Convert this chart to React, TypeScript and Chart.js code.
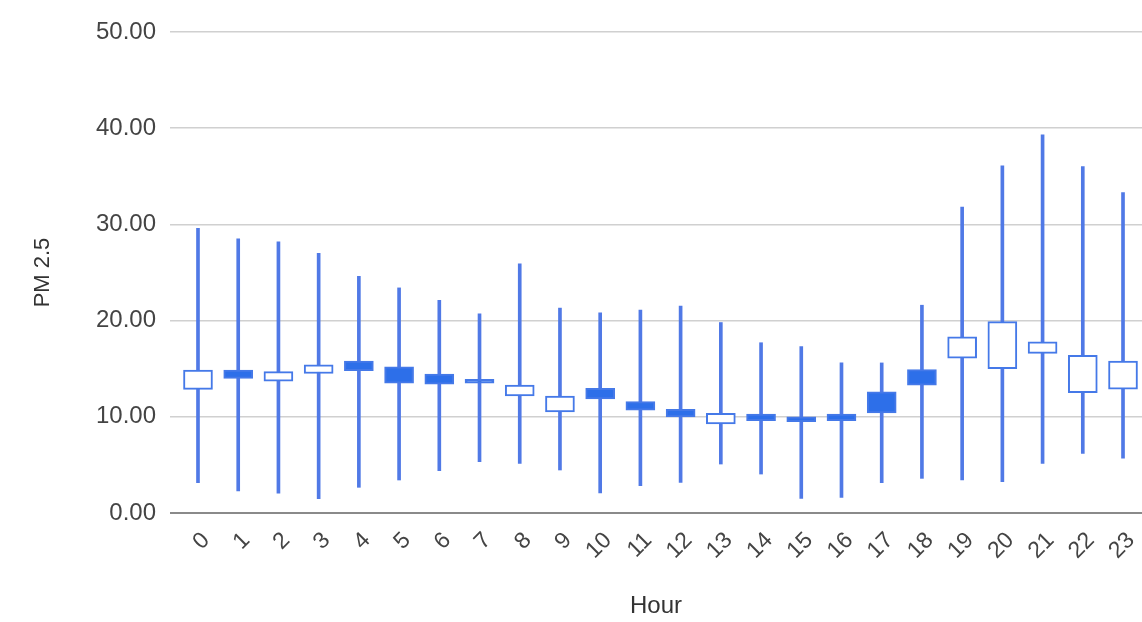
import React, { useEffect, useRef } from "react";
import { Chart, registerables } from "chart.js";

Chart.register(...registerables);

const hours = [0, 1, 2, 3, 4, 5, 6, 7, 8, 9, 10, 11, 12, 13, 14, 15, 16, 17, 18, 19, 20, 21, 22, 23];
const lows = [3.15, 2.3, 2.05, 1.5, 2.67, 3.43, 4.4, 5.33, 5.16, 4.47, 2.1, 2.84, 3.19, 5.09, 4.05, 1.52, 1.63, 3.15, 3.6, 3.43, 3.26, 5.16, 6.2, 5.7];
const opens = [12.85, 14.86, 13.7, 14.5, 15.8, 15.2, 14.45, 13.9, 12.16, 10.5, 12.96, 11.57, 10.78, 9.25, 10.29, 10.0, 10.29, 12.6, 14.9, 16.1, 15.0, 16.6, 12.5, 12.86];
const closes = [14.86, 14.0, 14.7, 15.4, 14.8, 13.5, 13.4, 13.5, 13.3, 12.16, 11.85, 10.7, 10.0, 10.36, 9.6, 9.5, 9.6, 10.4, 13.3, 18.3, 19.9, 17.8, 16.4, 15.8];
const highs = [29.6, 28.5, 28.2, 27.0, 24.6, 23.4, 22.1, 20.7, 25.9, 21.3, 20.8, 21.1, 21.5, 19.8, 17.7, 17.3, 15.6, 15.6, 21.6, 31.8, 36.1, 39.3, 36.0, 33.3];
const yTicks = [0, 10, 20, 30, 40, 50];

const BLUE = "#4579e8";
const WICK = "#5079e6";
const FILL = "#2d6fe9";
const FONT = "'Liberation Sans', Arial, sans-serif";

export default function App() {
  const ref = useRef<HTMLCanvasElement | null>(null);

  useEffect(() => {
    if (!ref.current) return;
    const wickData = hours.map((h, i) => ({ x: h, y: [lows[i], highs[i]] }));
    const boxData = hours.map((h, i) => ({
      x: h,
      y: [Math.min(opens[i], closes[i]), Math.max(opens[i], closes[i])],
    }));
    const boxBg = hours.map((_, i) => (opens[i] > closes[i] ? FILL : "#ffffff"));

    const chart = new Chart(ref.current, {
      type: "bar",
      data: {
        datasets: [
          {
            label: "box",
            data: boxData as any,
            backgroundColor: boxBg,
            borderColor: BLUE,
            borderWidth: 2,
            borderSkipped: false,
            barThickness: 29,
            grouped: false,
            order: 0,
          } as any,
          {
            label: "wick",
            data: wickData as any,
            backgroundColor: WICK,
            borderWidth: 0,
            barThickness: 3,
            grouped: false,
            order: 1,
          } as any,
        ],
      },
      options: {
        responsive: false,
        animation: false,
        events: [],
        layout: { padding: { top: 32, right: 0, bottom: 0, left: 0 } },
        plugins: {
          legend: { display: false },
          tooltip: { enabled: false },
          title: { display: false },
        },
        scales: {
          x: {
            type: "linear",
            offset: false,
            min: -0.696,
            max: 23.472,
            grid: { display: false },
            border: { display: false },
            afterBuildTicks: (scale: any) => {
              scale.ticks = hours.map((h) => ({ value: h }));
            },
            afterFit: (scale: any) => {
              scale.height = 109;
              scale.paddingLeft = 0;
              scale.paddingRight = 0;
            },
            ticks: {
              autoSkip: false,
              minRotation: 45,
              maxRotation: 45,
              padding: 6,
              labelOffset: 8,
              color: "#444",
              font: { family: FONT, size: 23 },
              callback: (v: any) => String(v),
            },
            title: {
              display: true,
              text: "Hour",
              color: "#333",
              font: { family: FONT, size: 24 },
              padding: { top: 0, bottom: 1 },
            },
          },
          y: {
            type: "linear",
            min: 0,
            max: 50,
            border: { display: false },
            afterBuildTicks: (scale: any) => {
              scale.ticks = yTicks.map((v) => ({ value: v }));
            },
            afterFit: (scale: any) => {
              scale.width = 170;
            },
            grid: {
              drawTicks: false,
              color: (ctx: any) => (ctx.tick && ctx.tick.value === 0 ? "#8a8a8a" : "#d0d0d0"),
              lineWidth: (ctx: any) => (ctx.tick && ctx.tick.value === 0 ? 2 : 1.5),
            },
            ticks: {
              padding: 14,
              color: "#444",
              font: { family: FONT, size: 24 },
              callback: (v: any) => Number(v).toFixed(2),
            },
            title: {
              display: true,
              text: "PM 2.5",
              color: "#333",
              font: { family: FONT, size: 22 },
              padding: { top: 30, bottom: 0 },
            },
          },
        },
      },
    });
    return () => chart.destroy();
  }, []);

  return (
    <div style={{ position: "fixed", left: 0, top: 0, width: 1142, height: 622, background: "#fff" }}>
      <canvas ref={ref} width={1142} height={622} />
    </div>
  );
}
